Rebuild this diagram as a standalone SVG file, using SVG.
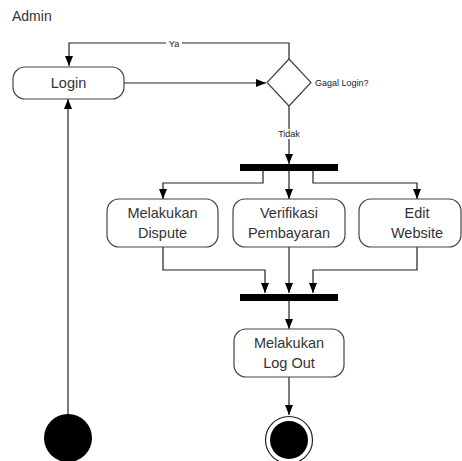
<svg xmlns="http://www.w3.org/2000/svg" width="462" height="461" viewBox="0 0 462 461">
<defs>
<marker id="arr" markerUnits="userSpaceOnUse" markerWidth="10" markerHeight="10" viewBox="0 0 10 10" refX="10" refY="5" orient="auto">
<path d="M0,1 L10,5 L0,9 Z" fill="#000"/>
</marker>
</defs>
<style>
.box{fill:#fff;stroke:#444;stroke-width:1.2}
.t{font-family:"Liberation Sans",Arial,sans-serif;font-size:14.5px;fill:#333;text-anchor:middle}
.s{font-family:"Liberation Sans",Arial,sans-serif;font-size:9px;fill:#222}
.c{fill:none;stroke:#222;stroke-width:1.2}
.bar{fill:#000}
</style>
<rect width="462" height="461" fill="#fff"/>
<text x="12" y="21" font-family="'Liberation Sans',Arial,sans-serif" font-size="14" fill="#333">Admin</text>
<g id="connectors">
<path class="c" d="M289,59 V43 H69 V66" marker-end="url(#arr)"/>
<rect x="166" y="39" width="16" height="9" fill="#fff"/>
<text class="s" x="174" y="47" text-anchor="middle">Ya</text>
<path class="c" d="M124,83 H266" marker-end="url(#arr)"/>
<path class="c" d="M289,106 V164" marker-end="url(#arr)"/>
<rect x="276" y="129" width="26" height="10" fill="#fff"/>
<text class="s" x="289" y="137" text-anchor="middle">Tidak</text>
<path class="c" d="M263,171 V183 H163 V199" marker-end="url(#arr)"/>
<path class="c" d="M289,171 V199" marker-end="url(#arr)"/>
<path class="c" d="M313,171 V183 H417 V199" marker-end="url(#arr)"/>
<path class="c" d="M163,247 V270 H265 V293" marker-end="url(#arr)"/>
<path class="c" d="M289,247 V293" marker-end="url(#arr)"/>
<path class="c" d="M417,247 V270 H313 V293" marker-end="url(#arr)"/>
<path class="c" d="M289,301 V329" marker-end="url(#arr)"/>
<path class="c" d="M289,377 V415" marker-end="url(#arr)"/>
<path class="c" d="M68,414 V99" marker-end="url(#arr)"/>
</g>
<g id="start"><circle cx="68" cy="438" r="24" fill="#000"/></g>
<g id="login">
<rect class="box" x="13" y="67" width="111" height="32" rx="12"/>
<text class="t" x="68.5" y="88">Login</text>
</g>
<g id="decision">
<path d="M289,59 L311,82.5 L289,106 L267,82.5 Z" fill="#fff" stroke="#444" stroke-width="1.2"/>
<text class="s" x="315" y="86">Gagal Login?</text>
</g>
<g id="fork"><rect class="bar" x="240" y="164" width="98" height="7"/></g>
<g id="dispute">
<rect class="box" x="107" y="199" width="111" height="48" rx="12"/>
<text class="t" x="162.5" y="218">Melakukan</text>
<text class="t" x="162.5" y="238">Dispute</text>
</g>
<g id="verifikasi">
<rect class="box" x="233" y="199" width="112" height="48" rx="12"/>
<text class="t" x="289" y="218">Verifikasi</text>
<text class="t" x="289" y="238">Pembayaran</text>
</g>
<g id="edit">
<rect class="box" x="359" y="199" width="102" height="48" rx="12"/>
<text class="t" x="417" y="218">Edit</text>
<text class="t" x="417" y="238">Website</text>
</g>
<g id="join"><rect class="bar" x="240" y="294" width="98" height="7"/></g>
<g id="logout">
<rect class="box" x="234" y="329" width="110" height="48" rx="12"/>
<text class="t" x="289" y="348">Melakukan</text>
<text class="t" x="289" y="368">Log Out</text>
</g>
<g id="end">
<circle cx="289" cy="440" r="23.5" fill="#fff" stroke="#222" stroke-width="1.2"/>
<circle cx="289" cy="440" r="19" fill="#000"/>
</g>
</svg>
